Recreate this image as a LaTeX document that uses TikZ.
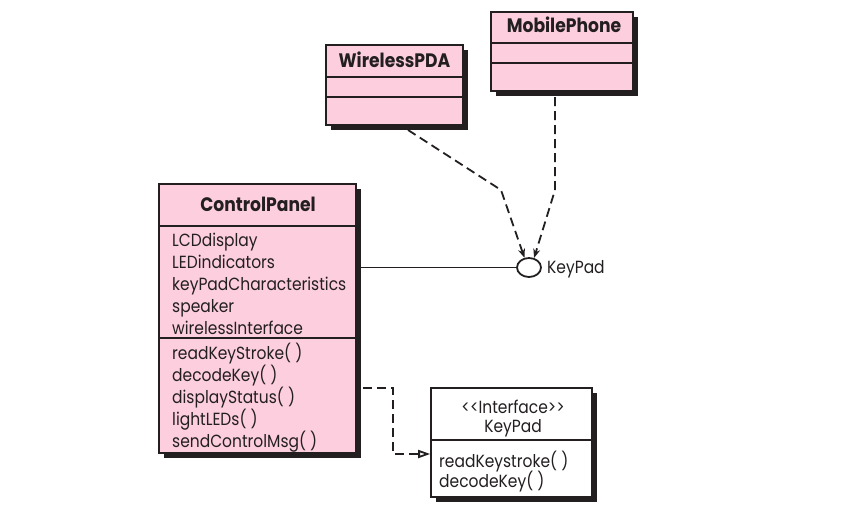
\documentclass[tikz,border=0pt]{standalone}
\usepackage{fontspec}
\setmainfont{Poppins}[FakeStretch=0.88]
\usetikzlibrary{shapes.geometric,arrows.meta,shadows}
\definecolor{pinkfill}{RGB}{252,206,222}
\definecolor{ink}{RGB}{35,31,32}
\begin{document}
\begin{tikzpicture}[x=1pt,y=-1pt,
  classbox/.style={draw=ink, line width=2pt, fill=pinkfill, inner sep=0pt,
    drop shadow={shadow xshift=5pt, shadow yshift=-5pt, fill=ink, opacity=1}},
  ifacebox/.style={draw=ink, line width=1.6pt, fill=white, inner sep=0pt,
    drop shadow={shadow xshift=5pt, shadow yshift=-5pt, fill=ink, opacity=1}},
  divider/.style={draw=ink, line width=1.6pt},
  member/.style={anchor=base west, inner sep=0pt, text=ink, font=\fontsize{17.6}{17.6}\selectfont},
  ctitle/.style={anchor=base, inner sep=0pt, text=ink, font=\bfseries\fontsize{19.5}{19.5}\selectfont},
  ctext/.style={anchor=base, inner sep=0pt, text=ink, font=\fontsize{17.6}{17.6}\selectfont},
  dep/.style={draw=ink, line width=1.8pt, dash pattern=on 9pt off 5pt},
  assoc/.style={draw=ink, line width=1.8pt}
]
\useasboundingbox[fill=white] (0,0) rectangle (854,514);

% ControlPanel
\node[classbox, minimum width=197pt, minimum height=269pt] (cp) at (257.5,318.5) {};
\draw[divider] (cp.west |- 0,226) -- (cp.east |- 0,226);
\draw[divider] (cp.west |- 0,338) -- (cp.east |- 0,338);
\node[ctitle] (cpt) at (258,211) {ControlPanel};
\node[member] (a1) at (172,246) {LCDdisplay};
\node[member] (a2) at (172,268) {LEDindicators};
\node[member] (a3) at (172,290) {keyPadCharacteristics};
\node[member] (a4) at (172,312) {speaker};
\node[member] (a5) at (172,334) {wirelessInterface};
\node[member] (o1) at (172,359) {readKeyStroke( )};
\node[member] (o2) at (172,381) {decodeKey( )};
\node[member] (o3) at (172,403) {displayStatus( )};
\node[member] (o4) at (172,425) {lightLEDs( )};
\node[member] (o5) at (172,447) {sendControlMsg( )};

% WirelessPDA
\node[classbox, minimum width=137pt, minimum height=80pt] (pda) at (394.5,85) {};
\draw[divider] (pda.west |- 0,77) -- (pda.east |- 0,77);
\draw[divider] (pda.west |- 0,97) -- (pda.east |- 0,97);
\node[ctitle] (pdat) at (394.5,67) {WirelessPDA};

% MobilePhone
\node[classbox, minimum width=142pt, minimum height=79pt] (mp) at (562,51.5) {};
\draw[divider] (mp.west |- 0,43) -- (mp.east |- 0,43);
\draw[divider] (mp.west |- 0,63) -- (mp.east |- 0,63);
\node[ctitle] (mpt) at (564,32) {MobilePhone};

% Interface KeyPad
\node[ifacebox, minimum width=161pt, minimum height=109pt] (ik) at (511.5,442.5) {};
\draw[divider] (ik.west |- 0,440) -- (ik.east |- 0,440);
\node[ctext] (ik1) at (513,413) {<\kern0pt<Interface>\kern0pt>};
\node[ctext] (ik2) at (513,432) {KeyPad};
\node[member] (ik3) at (439,467) {readKeystroke( )};
\node[member] (ik4) at (439,487) {decodeKey( )};

% lollipop
\node[draw=ink, line width=1.8pt, ellipse, minimum width=24pt, minimum height=19pt, inner sep=0pt, fill=white] (kp) at (529,267.5) {};
\node[member] (kpl) at (547,273) {KeyPad};

\draw[assoc] (cp.east |- kp.west) -- (kp.west);

\coordinate (pdab) at (501,190);
\coordinate (mpb) at (555,190);
\draw[dep, -{Stealth[length=9pt,width=7pt]}] ([xshift=13.5pt,yshift=-4pt]pda.south) -- (pdab) -- (kp.115);
\draw[dep, -{Stealth[length=9pt,width=7pt]}] ([xshift=-7pt,yshift=-5pt]mp.south) -- (mpb) -- (kp.62);

\coordinate (rb) at (393,454);
\draw[dep, -{Triangle[open,length=12pt,width=8pt]}] ([xshift=6pt,yshift=-69.5pt]cp.east) -| (rb) -- ([yshift=-11.5pt]ik.west);
\end{tikzpicture}
\end{document}
